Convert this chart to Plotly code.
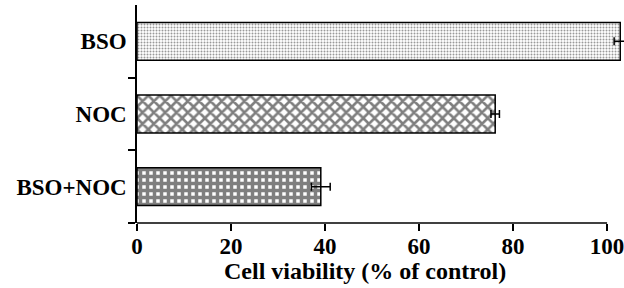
import plotly.graph_objects as go

categories = ["BSO", "NOC", "BSO+NOC"]
viability = [102.8, 76.2, 39.1]
errors = [1.3, 0.9, 2.0]
x_ticks = [0, 20, 40, 60, 80, 100]

patterns = [
    dict(shape=".", fgcolor="#333333", bgcolor="white", size=3, solidity=0.35),
    dict(shape="x", fgcolor="black", bgcolor="white", size=8, solidity=0.55),
    dict(shape="+", fgcolor="black", bgcolor="white", size=7, solidity=0.75),
]

FONT = "Liberation Serif"
FS = 23

fig = go.Figure()
for cat, val, err, pat in zip(categories, viability, errors, patterns):
    fig.add_trace(go.Bar(
        x=[val], y=[cat], orientation="h", width=0.52,
        marker=dict(color="white", pattern=pat, line=dict(color="black", width=1.5)),
        error_x=dict(type="data", array=[err], color="black", thickness=1.5, width=4),
        showlegend=False,
    ))

fig.add_shape(type="line", xref="x", yref="paper", x0=0, x1=100, y0=0, y1=0,
              line=dict(color="black", width=1.5))

fig.add_annotation(text="<b>Cell viability (% of control)</b>", xref="x", x=48.5,
                   yref="paper", y=0, yanchor="top", yshift=-33, showarrow=False,
                   font=dict(family=FONT, size=24, color="black"))

fig.update_layout(
    width=624, height=288,
    margin=dict(l=137, r=0, t=5, b=65),
    paper_bgcolor="white", plot_bgcolor="white",
    font=dict(family=FONT, size=FS, color="black"),
    bargap=0.48,
)
fig.update_xaxes(
    range=[0, 103.6], tickvals=x_ticks, ticktext=[f"<b>{t}</b>" for t in x_ticks],
    ticks="outside", ticklen=7, tickwidth=1.5, tickcolor="black",
    showline=False, showgrid=False, zeroline=False, automargin=False,
    ticklabelstandoff=-5, ticklabeloverflow="allow",
    tickfont=dict(family=FONT, size=FS, color="black"),
)
fig.update_yaxes(
    categoryorder="array", categoryarray=categories[::-1],
    tickvals=categories, ticktext=[f"<b>{c}</b>" for c in categories],
    tickson="boundaries", ticks="outside", ticklen=7, tickwidth=1.5, tickcolor="black",
    showline=True, linecolor="black", linewidth=1.5, showgrid=False, zeroline=False,
    automargin=False, ticklabelstandoff=4,
    tickfont=dict(family=FONT, size=FS, color="black"),
)

fig.write_html("out.html", config={"displayModeBar": False},
               post_script="document.body.style.margin='0';")
